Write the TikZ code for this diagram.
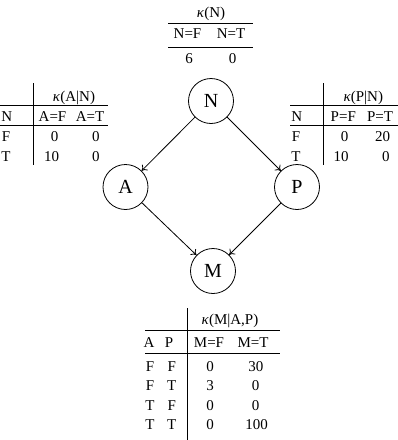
\documentclass[tikz,border=0pt]{standalone}
\usepackage{fontspec}
\setmainfont{Liberation Serif}
\usetikzlibrary{arrows.meta}
\newcommand\kapp{\textit{κ}}
\begin{document}
\begin{tikzpicture}[x=1pt,y=-1pt,
  every node/.style={font=\fontsize{15}{18}\selectfont},
  tx/.style={inner sep=0pt, anchor=base},
  var/.style={circle, draw, line width=0.8pt, minimum size=45pt, inner sep=0pt, font=\fontsize{20}{24}\selectfont},
  edge/.style={line width=0.8pt, -{To[length=5pt,width=8pt]}},
  rule/.style={line width=0.9pt}]
\useasboundingbox (0,0) rectangle (398,440);
% graph
\node[var] (N) at (211,101) {N};
\node[var] (A) at (125.5,187) {A};
\node[var] (P) at (297,187) {P};
\node[var] (M) at (213,271) {M};
\draw[edge] (N) -- (A);
\draw[edge] (N) -- (P);
\draw[edge] (A) -- (M);
\draw[edge] (P) -- (M);
% top table
\node[tx] (tN) at (211,17) {\kapp(N)};
\draw[rule] (168,23) -- (253,23);
\node[tx] (tNF) at (187.5,38) {N=F};
\node[tx] (tNT) at (231,38) {N=T};
\draw[rule] (168,47) -- (253,47);
\node[tx] (tN1) at (189,63) {6};
\node[tx] (tN2) at (232.5,63) {0};
% left table
\draw[rule] (33,83) -- (33,165);
\node[tx] (tA) at (74,101) {\kapp(A|N)};
\draw[rule] (0,105.5) -- (108,105.5);
\node[tx] (ha1) at (6.7,121) {N};
\node[tx] (ha2) at (52.5,121) {A=F};
\node[tx] (ha3) at (90,121) {A=T};
\draw[rule] (0,125.5) -- (108,125.5);
\node[tx] (ra1) at (6,141) {F};
\node[tx] (ra2) at (54.7,141) {0};
\node[tx] (ra3) at (95.8,141) {0};
\node[tx] (sa1) at (6,161) {T};
\node[tx] (sa2) at (51.7,161) {10};
\node[tx] (sa3) at (95.8,161) {0};
% right table
\draw[rule] (323.3,83) -- (323.3,165);
\node[tx] (tP) at (363.3,101) {\kapp(P|N)};
\draw[rule] (290,105.5) -- (398,105.5);
\node[tx] (hp1) at (296.7,121) {N};
\node[tx] (hp2) at (343.3,121) {P=F};
\node[tx] (hp3) at (380,121) {P=T};
\draw[rule] (290,125.5) -- (398,125.5);
\node[tx] (rp1) at (296,141) {F};
\node[tx] (rp2) at (344.7,141) {0};
\node[tx] (rp3) at (382.5,141) {20};
\node[tx] (sp1) at (296,161) {T};
\node[tx] (sp2) at (341,161) {10};
\node[tx] (sp3) at (385.8,161) {0};
% bottom table
\draw[rule] (187.5,308) -- (187.5,440);
\node[tx] (tM) at (230,324) {\kapp(M|A,P)};
\draw[rule] (145,330) -- (280,330);
\node[tx] (hm1) at (149,347.5) {A};
\node[tx] (hm2) at (169,347.5) {P};
\node[tx] (hm3) at (209,347.5) {M=F};
\node[tx] (hm4) at (253,347.5) {M=T};
\draw[rule] (145,353.5) -- (280,353.5);
\node[tx] (m1a) at (150,371) {F};
\node[tx] (m1b) at (171.7,371) {F};
\node[tx] (m1c) at (210,371) {0};
\node[tx] (m1d) at (255.8,371) {30};
\node[tx] (m2a) at (150,390.5) {F};
\node[tx] (m2b) at (171.7,390.5) {T};
\node[tx] (m2c) at (210,390.5) {3};
\node[tx] (m2d) at (255.5,390.5) {0};
\node[tx] (m3a) at (150,410) {T};
\node[tx] (m3b) at (171.7,410) {F};
\node[tx] (m3c) at (210,410) {0};
\node[tx] (m3d) at (255.5,410) {0};
\node[tx] (m4a) at (150,429.5) {T};
\node[tx] (m4b) at (171.7,429.5) {T};
\node[tx] (m4c) at (210,429.5) {0};
\node[tx] (m4d) at (256.7,429.5) {100};
\end{tikzpicture}
\end{document}
